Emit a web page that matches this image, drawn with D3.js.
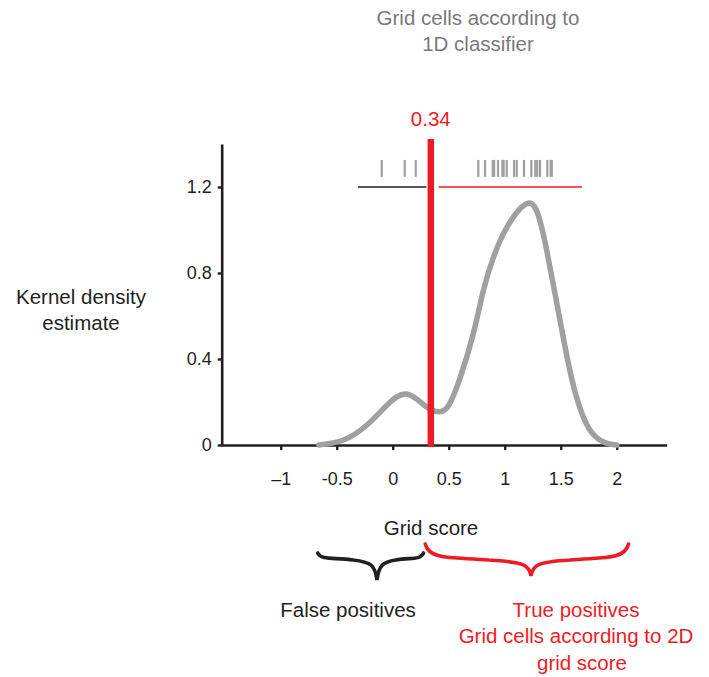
<!DOCTYPE html>
<html>
<head>
<meta charset="utf-8">
<script src="https://cdn.jsdelivr.net/npm/d3@7"></script>
<style>
  body { margin: 0; background: #fff; }
  svg text { font-family: "Liberation Sans", Arial, sans-serif; }
</style>
</head>
<body>
<div id="chart"></div>
<script>
// density curve (grid score, density)
const densityX = [-0.66, -0.44, -0.23, -0.05, 0.125, 0.30, 0.42, 0.50, 0.60, 0.72, 0.81, 0.90, 1.02, 1.18, 1.29, 1.375, 1.46, 1.55, 1.64, 1.76, 1.90, 2.0];
const densityY = [0, 0.023, 0.093, 0.186, 0.237, 0.178, 0.155, 0.185, 0.31, 0.52, 0.72, 0.874, 1.013, 1.118, 1.083, 0.905, 0.673, 0.425, 0.224, 0.07, 0.01, 0];

// rug: grid scores of cells called grid cells by the 1D classifier
const rugLeft = [-0.098, 0.107, 0.205];
const rugRight = [0.764, 0.824, 0.893, 0.905, 0.940, 0.979, 0.99, 1.018, 1.083, 1.107, 1.172, 1.237, 1.273, 1.29, 1.315, 1.380, 1.410, 1.42];

const threshold = 0.34;
const xTicks = [-1, -0.5, 0, 0.5, 1, 1.5, 2];
const xTickLabels = ['\u20131', '-0.5', '0', '0.5', '1', '1.5', '2'];
const yTicks = [0, 0.4, 0.8, 1.2];
const yTickLabels = ['0', '0.4', '0.8', '1.2'];

const W = 709, H = 677;
const red = '#ed1c24', gray = '#a0a0a0', ink = '#231f20';
const fs = 20.5; // label font size

const svg = d3.select('#chart').append('svg')
    .attr('width', W)
    .attr('height', H);

const x = d3.scaleLinear().domain([-1.536, 2.446]).range([220.7, 666.7]);
const y = d3.scaleLinear().domain([0, 1.4]).range([445, 144]);

// title
svg.append('text')
    .attr('text-anchor', 'middle')
    .attr('fill', '#7a7a7a')
    .attr('font-size', fs)
    .selectAll('tspan')
    .data(['Grid cells according to', '1D classifier'])
    .enter().append('tspan')
    .attr('x', 478)
    .attr('y', (d, i) => 24.5 + i * 26)
    .text(d => d);

// y label
svg.append('text')
    .attr('text-anchor', 'middle')
    .attr('fill', ink)
    .attr('font-size', fs)
    .selectAll('tspan')
    .data(['Kernel density', 'estimate'])
    .enter().append('tspan')
    .attr('x', 81)
    .attr('y', (d, i) => 303.5 + i * 26)
    .text(d => d);

// axes
const xAxis = d3.axisBottom(x)
    .tickValues(xTicks)
    .tickFormat((d, i) => xTickLabels[i])
    .tickSizeInner(5).tickSizeOuter(0).tickPadding(22);
const gx = svg.append('g').attr('transform', `translate(0,${y(0)})`).call(xAxis);

const yAxis = d3.axisLeft(y)
    .tickValues(yTicks)
    .tickFormat((d, i) => yTickLabels[i])
    .tickSizeInner(4).tickSizeOuter(0).tickPadding(6);
const gy = svg.append('g').attr('transform', `translate(${x.range()[0] + 1},0)`).call(yAxis);

[gx, gy].forEach(g => {
    g.select('.domain').attr('stroke', ink).attr('stroke-width', 2.6);
    g.selectAll('.tick line').attr('stroke', ink).attr('stroke-width', 2.4);
    g.selectAll('.tick text')
        .attr('fill', ink)
        .attr('font-size', 18)
        .style('font-family', '"Liberation Sans", Arial, sans-serif');
});

// density curve
const pts = densityX.map((d, i) => [d, densityY[i]]);
const line = d3.line()
    .x(d => x(d[0]))
    .y(d => Math.min(y(d[1]), y(0)))
    .curve(d3.curveNatural);
svg.append('path')
    .datum(pts)
    .attr('d', line)
    .attr('fill', 'none')
    .attr('stroke', gray)
    .attr('stroke-width', 5.5)
    .attr('stroke-linecap', 'round');

// rug ticks
svg.append('g').selectAll('line')
    .data(rugLeft.concat(rugRight))
    .enter().append('line')
    .attr('x1', d => x(d)).attr('x2', d => x(d))
    .attr('y1', y(1.326)).attr('y2', y(1.247))
    .attr('stroke', gray)
    .attr('stroke-width', 2.2);

// spans under the rug
svg.append('line')
    .attr('x1', x(-0.31)).attr('x2', x(0.30))
    .attr('y1', y(1.2)).attr('y2', y(1.2))
    .attr('stroke', ink).attr('stroke-width', 1.4);
svg.append('line')
    .attr('x1', x(0.41)).attr('x2', x(1.69))
    .attr('y1', y(1.2)).attr('y2', y(1.2))
    .attr('stroke', red).attr('stroke-width', 1.4);

// threshold
svg.append('line')
    .attr('x1', x(threshold)).attr('x2', x(threshold))
    .attr('y1', y(1.423)).attr('y2', y(0) + 2)
    .attr('stroke', red)
    .attr('stroke-width', 6.5);
svg.append('text')
    .attr('x', x(threshold)).attr('y', 125.5)
    .attr('text-anchor', 'middle')
    .attr('fill', red)
    .attr('font-size', fs)
    .text(threshold.toFixed(2));

// x label
svg.append('text')
    .attr('x', 431).attr('y', 534.5)
    .attr('text-anchor', 'middle')
    .attr('fill', ink)
    .attr('font-size', fs)
    .text('Grid score');

// curly braces: x0/x1 in grid-score units, tip at fraction m
function brace(x0, x1, m, yTop, yMid, yTip) {
    const a = x(x0), b = x(x1), c = a + (b - a) * m;
    const p = d3.path();
    p.moveTo(a, yTop);
    p.bezierCurveTo(a + 4, yMid + 2, a + (c - a) * 0.3, yMid - 2, a + (c - a) * 0.6, yMid + 1);
    p.bezierCurveTo(c - 6, yMid + 3, c - 2, yMid + 6, c, yTip);
    p.bezierCurveTo(c + 2, yMid + 6, c + 6, yMid + 3, c + (b - c) * 0.4, yMid + 1);
    p.bezierCurveTo(b - (b - c) * 0.3, yMid - 2, b - 4, yMid + 2, b, yTop);
    return p.toString();
}
svg.append('path')
    .attr('d', brace(-0.67, 0.275, 0.56, 553, 559, 580))
    .attr('fill', 'none')
    .attr('stroke', ink)
    .attr('stroke-width', 3.6)
    .attr('stroke-linecap', 'round');
svg.append('path')
    .attr('d', brace(0.29, 2.105, 0.52, 544, 559, 576))
    .attr('fill', 'none')
    .attr('stroke', red)
    .attr('stroke-width', 3.6)
    .attr('stroke-linecap', 'round');

// bottom labels
svg.append('text')
    .attr('x', 348).attr('y', 616.5)
    .attr('text-anchor', 'middle')
    .attr('fill', ink)
    .attr('font-size', fs)
    .text('False positives');

svg.append('text')
    .attr('text-anchor', 'middle')
    .attr('fill', red)
    .attr('font-size', fs)
    .selectAll('tspan')
    .data(['True positives', 'Grid cells according to 2D', 'grid score'])
    .enter().append('tspan')
    .attr('x', (d, i) => i === 2 ? 582 : 576)
    .attr('y', (d, i) => 616.5 + i * 26.5)
    .text(d => d);
</script>
</body>
</html>
